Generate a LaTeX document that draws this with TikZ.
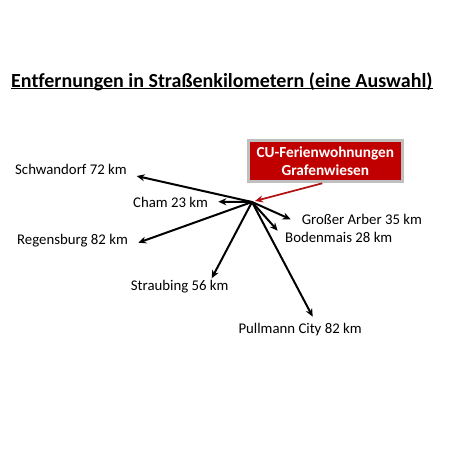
\documentclass[tikz,border=0pt]{standalone}
\usepackage{fontspec}
\setmainfont[Ligatures=CommonOff]{Carlito}
\usetikzlibrary{arrows.meta}
\definecolor{boxred}{HTML}{C00000}
\definecolor{boxgray}{HTML}{BFBFBF}
\definecolor{arrred}{HTML}{B01010}
\begin{document}
\begin{tikzpicture}[x=1pt,y=-1pt,
  lbl/.style={anchor=west,inner sep=0pt,font=\fontsize{14.8}{16}\selectfont},
  arr/.style={line width=2pt,-{Stealth[length=8pt,width=7pt]}},
  redarr/.style={line width=1.7pt,draw=arrred,-{Stealth[length=8pt,width=7pt]}},
  hotel/.style={fill=boxred,draw=boxgray,line width=3pt,text=white,align=center,
    minimum width=154pt,minimum height=41pt,inner sep=0pt,
    font=\bfseries\fontsize{15.3}{18}\selectfont}]
\useasboundingbox (0,0) rectangle (450,450);
\fill[white] (0,0) rectangle (450,450);
\node[anchor=west,inner sep=0pt,font=\bfseries\fontsize{20}{22}\selectfont] (title) at (11,82)
  {Entfernungen in Straßenkilometern (eine Auswahl)};
\draw[line width=1.6pt] ([yshift=3pt]title.south west) -- ([yshift=3pt]title.south east);
\node[hotel] (box) at (325.3,161.3) {CU-Ferienwohnungen\\Grafenwiesen};
\coordinate (c) at (252,202);
\node[lbl] (schw) at (15,169.3) {Schwandorf 72 km};
\node[lbl] (cham) at (133,202) {Cham 23 km};
\node[lbl] (regb) at (17,240.7) {Regensburg 82 km};
\node[lbl] (arber) at (301.7,219.3) {Großer Arber 35 km};
\node[lbl] (bod) at (285,237.3) {Bodenmais 28 km};
\node[lbl] (strb) at (130.7,286.7) {Straubing 56 km};
\node[lbl] (pull) at (238.3,329.3) {Pullmann City 82 km};
\coordinate (tschw) at (136.7,176);
\coordinate (tcham) at (218.3,201.7);
\coordinate (tregb) at (138.3,242.7);
\coordinate (tarber) at (290.7,219.3);
\coordinate (tbod) at (277.7,230.7);
\coordinate (tstrb) at (211.7,278.3);
\coordinate (tpull) at (312.7,316.7);
\draw[arr] (c) -- (tschw);
\draw[arr] (c) -- (tcham);
\draw[arr] (c) -- (tregb);
\draw[arr] (c) -- (tarber);
\draw[arr] (c) -- (tbod);
\draw[arr] (c) -- (tstrb);
\draw[arr] (c) -- (tpull);
\draw[redarr] ([xshift=-3pt]box.south) -- (255,201);
\end{tikzpicture}
\end{document}
